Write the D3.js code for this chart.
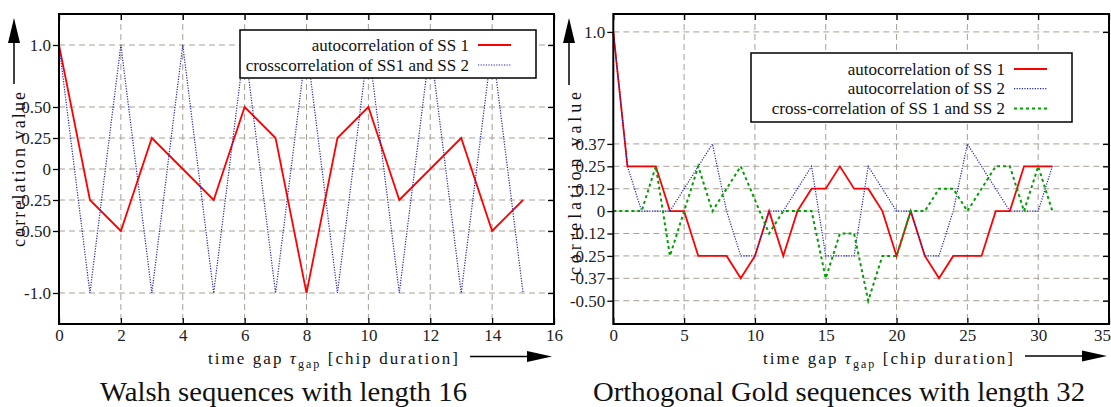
<!DOCTYPE html>
<html>
<head>
<meta charset="utf-8">
<script src="https://cdn.jsdelivr.net/npm/d3@7/dist/d3.min.js"></script>
<style>
    body { margin: 0; background: #fff; }
    svg { display: block; font-family: "Liberation Serif", "Times New Roman", serif; }
    .grid line { stroke: #a89f96; stroke-width: 1; stroke-dasharray: 6,4; }
    .axis path { display: none; }
    .axis line { stroke: #000; stroke-width: 1.3; }
    .axis text { font-family: "Liberation Serif", serif; font-size: 17px; fill: #222; }
    .frame { fill: none; stroke: #000; stroke-width: 2; }
    .legend rect { fill: #fff; stroke: #000; stroke-width: 1.5; }
    .legend text { font-size: 17px; fill: #111; }
</style>
</head>
<body>
<svg id="chart" width="1111" height="407"></svg>
<script>

// ---- Walsh sequences, length 16 ----
var walshLag = [0, 1, 2, 3, 4, 5, 6, 7, 8, 9, 10, 11, 12, 13, 14, 15];
var walshAuto = [1, -0.25, -0.5, 0.25, 0, -0.25, 0.5, 0.25, -1, 0.25, 0.5, -0.25, 0, 0.25, -0.5, -0.25];
var walshCross = [1, -1, 1, -1, 1, -1, 1, -1, 1, -1, 1, -1, 1, -1, 1, -1];
var walshXTicks = [0, 2, 4, 6, 8, 10, 12, 14, 16];
var walshYTicks = [1, 0.5, 0.25, 0, -0.25, -0.5, -1];
var walshYTickLabels = ["1.0", "0.50", "0.25", "0", "-0.25", "-0.50", "-1.0"];
var walshLegend = ["autocorrelation of SS 1", "crosscorrelation of SS1 and SS 2"];

// ---- orthogonal Gold sequences, length 32 ----
var goldLag = [0, 1, 2, 3, 4, 5, 6, 7, 8, 9, 10, 11, 12, 13, 14, 15,
               16, 17, 18, 19, 20, 21, 22, 23, 24, 25, 26, 27, 28, 29, 30, 31];
var goldAuto1 = [1, 0.25, 0.25, 0.25, 0, 0, -0.25, -0.25, -0.25, -0.375, -0.25, 0, -0.25, 0, 0.125, 0.125,
                 0.25, 0.125, 0.125, 0, -0.25, 0, -0.25, -0.375, -0.25, -0.25, -0.25, 0, 0, 0.25, 0.25, 0.25];
var goldAuto2 = [1, 0.25, 0, 0, 0, 0.125, 0.25, 0.375, 0, -0.25, -0.25, 0, 0, 0.125, 0.25, -0.25,
                 -0.25, -0.25, 0.25, 0.125, 0, 0, -0.25, -0.25, 0, 0.375, 0.25, 0.125, 0, 0, 0, 0.25];
var goldCross = [0, 0, 0, 0.25, -0.25, 0, 0.25, 0, 0.125, 0.25, 0.0625, -0.125, 0, 0, 0, -0.375,
                 -0.125, -0.125, -0.5, -0.25, -0.25, 0, 0, 0.125, 0.125, 0, 0.125, 0.25, 0.25, 0, 0.25, 0];
var goldXTicks = [0, 5, 10, 15, 20, 25, 30, 35];
var goldYTicks = [1, 0.375, 0.25, 0.125, 0, -0.125, -0.25, -0.375, -0.5];
var goldYTickLabels = ["1.0", "0.37", "0.25", "0.12", "0", "-0.12", "-0.25", "-0.37", "-0.50"];
var goldLegend = ["autocorrelation of SS 1", "autocorrelation of SS 2", "cross-correlation of SS 1 and SS 2"];

// line styles
var styleRed = {stroke: "#ff0000", width: 1.8, dash: null};
var styleBlue = {stroke: "#2323b4", width: 1.2, dash: "1.2,1.4"};
var styleGreen = {stroke: "#00a000", width: 2, dash: "3,3"};

var svg = d3.select("#chart");

/**
 * Letter-space a text element so that it spans the given length
 */
function spreadText(sel, target) {
    var n = sel.text().length;
    var w = sel.node().getComputedTextLength();
    sel.attr("letter-spacing", (target - w) / (n - 1));
}

/**
 * Draw one panel of the figure
 */
function drawPanel(p) {

    var g = svg.append("g");

    var xScale = d3.scaleLinear().domain(p.xDomain).range([p.left, p.right]);
    var yScale = d3.scaleLinear().domain(p.yDomain).range([p.bottom, p.top]);

    // dashed grid
    var grid = g.append("g").attr("class", "grid");
    grid.selectAll(".gx")
        .data(p.xTicks.filter(function (d) { return d > p.xDomain[0] && d < p.xDomain[1]; }))
        .enter().append("line")
        .attr("x1", function (d) { return xScale(d); })
        .attr("x2", function (d) { return xScale(d); })
        .attr("y1", p.top)
        .attr("y2", p.bottom);
    grid.selectAll(".gy")
        .data(p.yTicks)
        .enter().append("line")
        .attr("x1", p.left)
        .attr("x2", p.right)
        .attr("y1", function (d) { return yScale(d); })
        .attr("y2", function (d) { return yScale(d); });

    // axes
    g.append("g").attr("class", "axis")
        .attr("transform", "translate(" + p.left + ",0)")
        .call(d3.axisLeft(yScale).tickValues(p.yTicks)
            .tickFormat(function (d, i) { return p.yLabels[i]; })
            .tickSizeInner(6).tickSizeOuter(0).tickPadding(2));
    g.append("g").attr("class", "axis")
        .attr("transform", "translate(" + p.right + ",0)")
        .call(d3.axisRight(yScale).tickValues(p.yTicks).tickFormat("")
            .tickSizeInner(-6).tickSizeOuter(0));
    var xAxisG = g.append("g").attr("class", "axis")
        .attr("transform", "translate(0," + p.bottom + ")")
        .call(d3.axisBottom(xScale).tickValues(p.xTicks)
            .tickSizeInner(-6).tickSizeOuter(0).tickPadding(5));
    // keep the last label inside the page
    xAxisG.selectAll(".tick:last-of-type text").attr("dx", p.lastTickShift || 0);
    g.append("g").attr("class", "axis")
        .attr("transform", "translate(0," + p.top + ")")
        .call(d3.axisTop(xScale).tickValues(p.xTicks).tickFormat("")
            .tickSizeInner(-6).tickSizeOuter(0));

    // curves
    var line = d3.line()
        .x(function (d) { return xScale(d[0]); })
        .y(function (d) { return yScale(d[1]); });

    p.series.forEach(function (s) {
        g.append("path")
            .datum(d3.zip(p.lag, s.values))
            .attr("d", line)
            .attr("fill", "none")
            .attr("stroke", s.style.stroke)
            .attr("stroke-width", s.style.width)
            .attr("stroke-dasharray", s.style.dash)
            .attr("stroke-linejoin", "miter");
    });

    // frame
    g.append("rect").attr("class", "frame")
        .attr("x", p.left).attr("y", p.top)
        .attr("width", p.right - p.left).attr("height", p.bottom - p.top);

    // legend
    var lg = g.append("g").attr("class", "legend");
    var L = p.legend;
    lg.append("rect")
        .attr("x", L.x).attr("y", L.y).attr("width", L.w).attr("height", L.h);
    p.series.forEach(function (s, i) {
        var cy = L.y + L.first + i * L.step;
        lg.append("text")
            .attr("x", L.x + L.w - 67)
            .attr("y", cy + 5.5)
            .attr("text-anchor", "end")
            .text(s.name);
        lg.append("line")
            .attr("x1", L.x + L.w - 58).attr("x2", L.x + L.w - 25)
            .attr("y1", cy).attr("y2", cy)
            .attr("stroke", s.style.stroke)
            .attr("stroke-width", s.style.width)
            .attr("stroke-dasharray", s.style.dash);
    });

    // y label with arrow
    var yl = g.append("text")
        .attr("transform", "translate(" + p.yLabel.x + "," + p.yLabel.y0 + ") rotate(-90)")
        .attr("font-size", 18)
        .attr("fill", "#111")
        .text("correlation value");
    spreadText(yl, p.yLabel.y0 - p.yLabel.y1);

    var ax = p.yArrow.x;
    g.append("line")
        .attr("x1", ax).attr("x2", ax)
        .attr("y1", p.yArrow.y0).attr("y2", p.yArrow.tip + 20)
        .attr("stroke", "#000").attr("stroke-width", 1.5);
    g.append("path")
        .attr("d", "M" + (ax - 6) + "," + (p.yArrow.tip + 25) + "L" + ax + "," + p.yArrow.tip +
            "L" + (ax + 6) + "," + (p.yArrow.tip + 25) + "Z")
        .attr("fill", "#000");

    // x label with arrow
    var xl = g.append("text")
        .attr("x", p.xLabel.x0)
        .attr("y", p.xLabel.y)
        .attr("font-size", 17)
        .attr("fill", "#111");
    xl.append("tspan").text("time gap ");
    xl.append("tspan").attr("font-style", "italic").text("\u03c4");
    xl.append("tspan").attr("font-size", 12).attr("dy", 3.5).text("gap");
    xl.append("tspan").attr("dy", -3.5).text(" [chip duration]");
    spreadText(xl, p.xLabel.x1 - p.xLabel.x0);

    var ay = p.xArrow.y;
    g.append("line")
        .attr("x1", p.xArrow.x0).attr("x2", p.xArrow.tip - 20)
        .attr("y1", ay).attr("y2", ay)
        .attr("stroke", "#000").attr("stroke-width", 1.5);
    g.append("path")
        .attr("d", "M" + (p.xArrow.tip - 25) + "," + (ay - 5.5) + "L" + p.xArrow.tip + "," + ay +
            "L" + (p.xArrow.tip - 25) + "," + (ay + 5.5) + "Z")
        .attr("fill", "#000");

    // caption
    g.append("text")
        .attr("x", p.title.x0)
        .attr("y", 401)
        .attr("font-size", 28)
        .attr("fill", "#111")
        .attr("textLength", p.title.x1 - p.title.x0)
        .attr("lengthAdjust", "spacingAndGlyphs")
        .text(p.title.text);
}

drawPanel({
    left: 59, right: 554, top: 14, bottom: 324,
    xDomain: [0, 16], yDomain: [-1.25, 1.25],
    xTicks: walshXTicks, yTicks: walshYTicks, yLabels: walshYTickLabels,
    lag: walshLag,
    series: [
        {name: walshLegend[0], values: walshAuto, style: styleRed},
        {name: walshLegend[1], values: walshCross, style: styleBlue}
    ],
    legend: {x: 240, y: 30, w: 296, h: 48, first: 15, step: 20},
    yLabel: {x: 25, y0: 247, y1: 92},
    yArrow: {x: 14, y0: 84, tip: 18},
    xLabel: {x0: 208, x1: 458, y: 364},
    xArrow: {x0: 470, tip: 552, y: 356.5},
    title: {x0: 100, x1: 467, text: "Walsh sequences with length 16"}
});

drawPanel({
    left: 613.3, right: 1109, top: 14, bottom: 324,
    xDomain: [0, 35], yDomain: [-0.63, 1.1],
    xTicks: goldXTicks, yTicks: goldYTicks, yLabels: goldYTickLabels,
    lastTickShift: -7,
    lag: goldLag,
    series: [
        {name: goldLegend[0], values: goldAuto1, style: styleRed},
        {name: goldLegend[1], values: goldAuto2, style: styleBlue},
        {name: goldLegend[2], values: goldCross, style: styleGreen}
    ],
    legend: {x: 751, y: 53, w: 321, h: 69, first: 16, step: 19.7},
    yLabel: {x: 581, y0: 275, y1: 92},
    yArrow: {x: 569, y0: 85, tip: 18},
    xLabel: {x0: 763, x1: 1013, y: 364},
    xArrow: {x0: 1025, tip: 1107, y: 356},
    title: {x0: 593, x1: 1085, text: "Orthogonal Gold sequences with length 32"}
});

</script>
</body>
</html>
